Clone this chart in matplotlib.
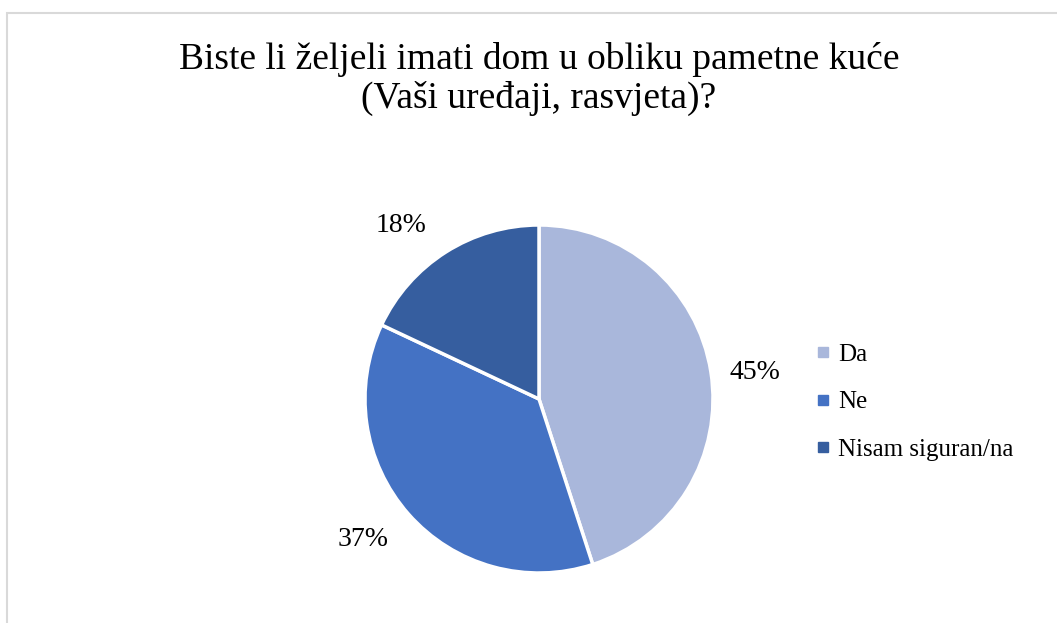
import matplotlib.pyplot as plt
from matplotlib.patches import Rectangle
from matplotlib.lines import Line2D

title = 'Biste li željeli imati dom u obliku pametne kuće\n(Vaši uređaji, rasvjeta)?'
labels = ['Da', 'Ne', 'Nisam siguran/na']
values = [45, 37, 18]
colors = ['#A9B7DB', '#4472C4', '#365E9F']
# where Excel's "best fit" put each percentage label (pie radius = 1)
label_pos = [(1.24, 0.15), (-1.01, -0.81), (-0.79, 1.00)]

plt.rcParams['font.family'] = ['Liberation Serif', 'DejaVu Serif']

fig = plt.figure(figsize=[10.57, 6.23], dpi=100)

# light grey chart border (runs off the right and bottom edges)
fig.patches.append(Rectangle((7/1057, -0.1), 1.2, 1 - 13/623 + 0.1,
                             transform=fig.transFigure, fill=False,
                             edgecolor='#D9D9D9', linewidth=1.5))

fig.text(539/1057, 1 - 79/623, title, ha='center', va='center',
         fontsize=27, linespacing=1.16)

ax = fig.add_axes([(539 - 174)/1057, (623 - 399 - 174)/623, 348/1057, 348/623])
wedges, texts, autotexts = ax.pie(values, colors=colors, startangle=90, counterclock=False,
                                  autopct='%1.0f%%', pctdistance=1.27,
                                  wedgeprops={'edgecolor': 'white', 'linewidth': 2.5},
                                  textprops={'fontsize': 20})
for t, p in zip(autotexts, label_pos):
    t.set_position(p)
ax.set_xlim(-1, 1)
ax.set_ylim(-1, 1)
ax.set_aspect('equal')

handles = [Line2D([], [], marker='s', linestyle='', markersize=7,
                  markerfacecolor=c, markeredgecolor=c) for c in colors]
fig.legend(handles, labels, loc='center left', bbox_to_anchor=(793/1057, 1 - 402/623),
           frameon=False, fontsize=18, handlelength=0.6, handletextpad=0.3,
           labelspacing=1.0)

fig.savefig('out.png', dpi=100)
